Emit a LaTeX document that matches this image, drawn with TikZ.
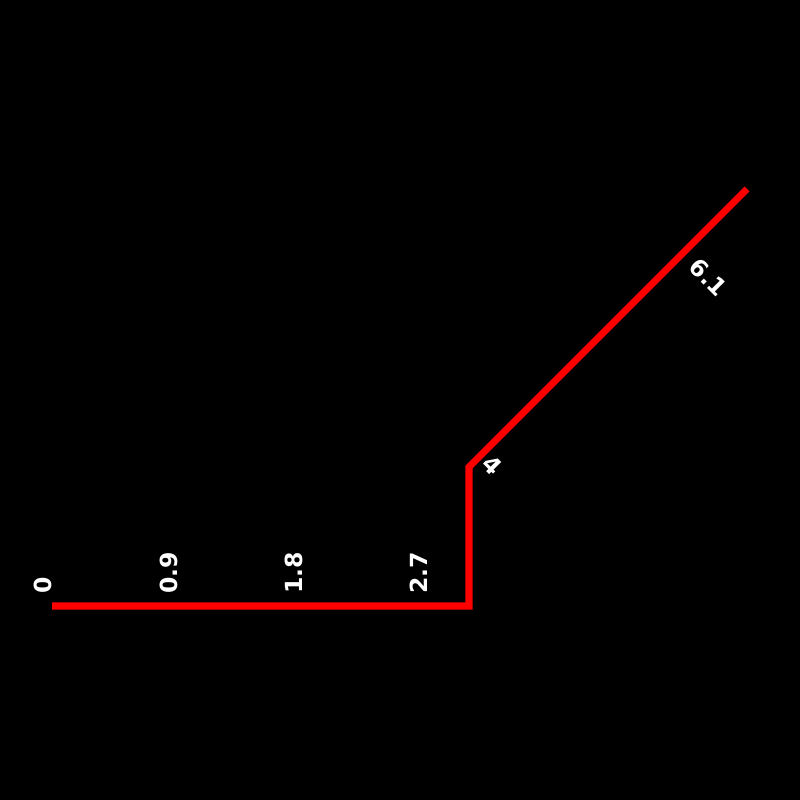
\documentclass[tikz,border=0pt]{standalone}
\usepackage{fontspec}
\setsansfont{DejaVu Sans}

\begin{document}
\begin{tikzpicture}[>=latex, font=\sffamily\bfseries\fontsize{13.4}{16}\selectfont,
  track/.style={red, line width=4pt},
  tick/.style={white, inner sep=0pt, anchor=base west}]

\useasboundingbox (0,0) rectangle (16,16);
\fill[black] (0,0) rectangle (16,16);

\begin{scope}[shift={(1.04,3.88)}, x=2.78cm, y=2.78cm]

\coordinate (p0) at (0,0);
\coordinate (p1) at (3,0);
\coordinate (p2) at (3,1);
\coordinate (p3) at (5,3);

\draw[track] (p0) -- (p1) -- (p2) -- (p3);

\foreach \d/\n in {0/a, 0.9/b, 1.8/c, 2.7/d}
  \node[tick, rotate=90] (lbl\n) at (\d, 0.087) {\d};

\node[tick, rotate=-45] (lble) at (3.08, 1.01) {4};
\node[tick, rotate=-45] (lblf) at (4.57, 2.43) {6.1};

\end{scope}

\end{tikzpicture}
\end{document}
